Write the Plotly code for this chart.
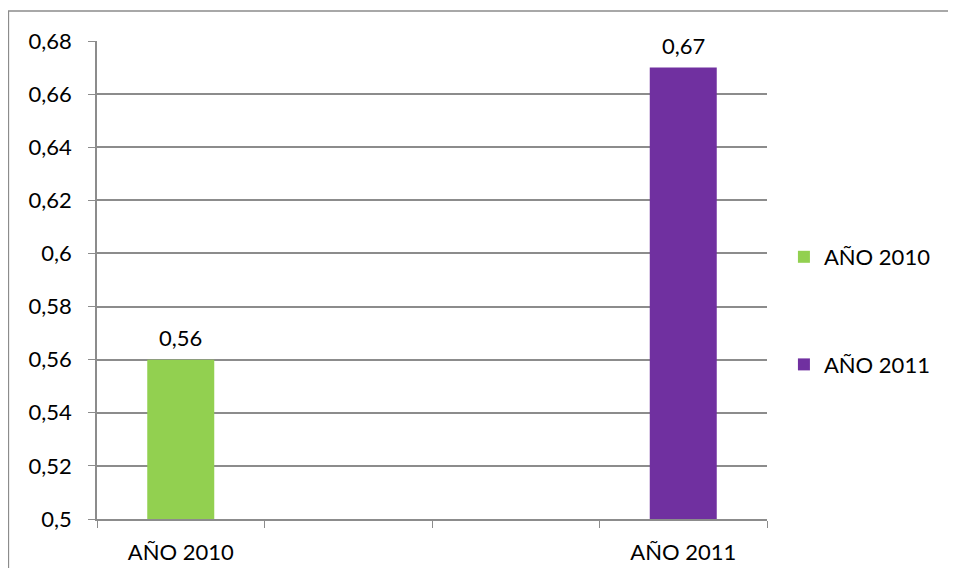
import plotly.graph_objects as go

# categorías del eje (dos huecos vacíos en medio, como en el original)
categorias = ["AÑO 2010", " ", "  ", "AÑO 2011"]
series = ["AÑO 2010", "AÑO 2011"]
valores = [0.56, 0.67]
etiquetas = ["0,56", "0,67"]
colores = ["#92D050", "#7030A0"]

fig = go.Figure()
for nombre, valor, color in zip(series, valores, colores):
    fig.add_trace(go.Bar(
        x=[nombre], y=[valor], name=nombre,
        marker=dict(color=color, line=dict(width=0)),
        legendgroup=nombre,
    ))

# etiquetas de datos encima de cada barra
for nombre, valor, txt in zip(series, valores, etiquetas):
    fig.add_annotation(x=nombre, y=valor, text=txt, showarrow=False,
                       yanchor="bottom", yshift=7, font=dict(size=22, color="black"))

# la página tiene 8px de margen en el body
W, H = 940, 560
ml, mr, mt, mb = 89, 178, 33, 49
pw, ph = W - ml - mr, H - mt - mb

fig.update_layout(
    width=W, height=H,
    margin=dict(l=ml, r=mr, t=mt, b=mb),
    paper_bgcolor="white", plot_bgcolor="white",
    font=dict(family="Lato, 'Open Sans', sans-serif", size=22, color="black"),
    separators=",.",
    barmode="overlay", bargap=0.6,
    showlegend=True,
    legend=dict(x=(779 - ml) / pw, xanchor="left", y=1 - (303 - mt) / ph, yanchor="middle",
                font=dict(size=22), tracegroupgap=76, itemwidth=30,
                bgcolor="rgba(0,0,0,0)"),
    xaxis=dict(type="category", categoryorder="array", categoryarray=categorias,
               tickson="boundaries", ticks="outside", ticklen=7, tickcolor="#8c8c8c",
               showline=True, linecolor="#8c8c8c", linewidth=1.5, showgrid=False,
               ticklabelstandoff=13, tickfont=dict(size=22), automargin=False),
    yaxis=dict(range=[0.5, 0.68], dtick=0.02, tick0=0.5,
               ticks="outside", ticklen=7, tickcolor="#8c8c8c",
               showline=True, linecolor="#8c8c8c", linewidth=1.5,
               showgrid=True, gridcolor="#8c8c8c", gridwidth=1.5, zeroline=False,
               ticklabelstandoff=12, tickfont=dict(size=22), automargin=False),
    shapes=[dict(type="rect", xref="paper", yref="paper",
                 x0=(0 - ml) / pw, x1=(W + 10 - ml) / pw,
                 y0=-(mb + 10) / ph, y1=1 + (mt - 3) / ph,
                 line=dict(color="#8c8c8c", width=1.5), layer="below")],
)

fig.write_html("out.html")
